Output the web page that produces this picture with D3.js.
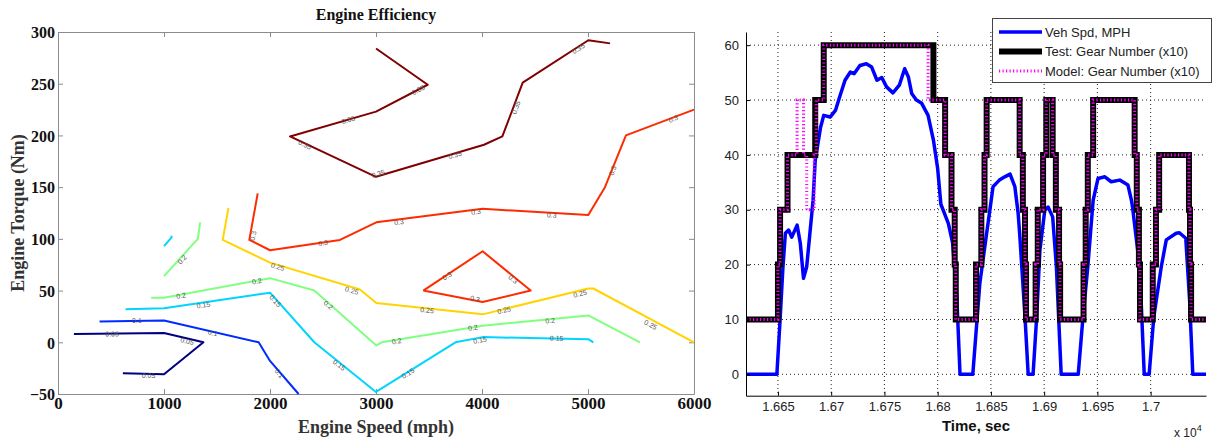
<!DOCTYPE html>
<html>
<head>
<meta charset="utf-8">
<script src="https://cdn.jsdelivr.net/npm/d3@7"></script>
<style>
  body { margin: 0; background: #fff; }
  svg { display: block; }
</style>
</head>
<body>
<div id="chart"></div>
<script>
/* Engine efficiency contours + gear shift comparison */

// ---- left panel: contour lines (engine speed, torque) ----
const levels = [0.05, 0.1, 0.15, 0.2, 0.25, 0.3, 0.35];
const levelText = ["0.05", "0.1", "0.15", "0.2", "0.25", "0.3", "0.35"];

const c05 = [[150,8],[1000,9],[1372,0],[1000,-31],[612,-30]];
const c10 = [[392,20],[1000,21],[1893,0],[2000,-18],[2270,-50]];
const c15a = [[637,32],[1000,33],[2000,48],[2418,0],[3000,-48],[3750,0],[4006,5],[5003,3],[5050,0]];
const c15b = [[1000,93],[1068,101],[1074,103]];
const c20a = [[879,43],[1000,43],[2000,62],[2418,50],[3003,-3],[3054,0],[4006,16],[5003,26],[5490,0]];
const c20b = [[1000,64],[1319,100],[1341,116]];
const c25 = [[1608,130],[1554,99],[2000,77],[2849,51],[3003,38],[4006,27],[5003,52],[5050,52],[6000,0]];
const c30a = [[1884,144],[1805,99],[2000,89],[2660,99],[3003,116],[4006,129],[5003,123],[5160,150],[5358,200],[6000,225]];
const c30b = [[3446,50],[4006,88],[4459,50],[4006,39],[3446,50]];
const c35 = [[3000,284],[3488,249],[3000,223],[2189,199],[3000,160],[4019,191],[4192,199],[4384,251],[5003,292],[5208,289]];

// label anchor points per level
const lab05 = [[510,8],[1218,1],[854,-32]];
const lab10 = [[744,21],[1460,9],[2088,-30]];
const lab15 = [[1372,36],[2050,40],[2653,-22],[3302,-30],[3981,2],[4705,4]];
const lab20 = [[1162,45],[1875,59],[2550,36],[3195,1],[3915,14],[4642,21],[1171,80]];
const lab25 = [[2072,73],[2772,50],[3481,31],[4208,31],[4925,47],[5591,17]];
const lab30 = [[1840,103],[2500,96],[3217,116],[3943,126],[4657,123],[5233,166],[5805,216],[3670,64],[4293,61],[3934,42]];
const lab35 = [[3399,244],[2739,215],[2330,191],[3022,163],[3745,181],[4321,227],[4909,284]];

const speedTicks = [0, 1000, 2000, 3000, 4000, 5000, 6000];
const torqueTicks = [-50, 0, 50, 100, 150, 200, 250, 300];

// ---- right panel: vehicle speed and gear ----
const speedTime = [16620,16649,16652,16654.7,16657,16660,16663,16668,16671,16674,16677,16680,16683,16685,16690,16693,
  16699,16704,16708,16713,16718,16721.5,16727,16733,16738,16743,16747.5,16752,16758,16764,16769,16772.5,16775.6,
  16780,16785,16791,16796,16800,16803,16806,16810,16814,16818,16821,16833,16839.6,16846,16849,16852,16855,16858,
  16863,16868,16872.5,16875.6,16877,16882,16885,16889.6,16893,16896,16900.6,16903.7,16908,16911.5,16916,16932,
  16936.5,16941,16946,16950.6,16957,16963,16971,16978.7,16982,16983,16989.7,16994,16998.6,17003,17010,17014.7,
  17024,17027,17033,17036.6,17039.6,17052];
const speedMph = [0,0,9.9,19.6,25.7,26.3,25,27.2,23.9,17.5,19.6,25.7,31.7,39,45,47.2,
  46.9,48.1,50.6,53.6,55.1,54.8,56.3,56.6,56,53.6,54.1,52.4,51.3,52.7,55.7,54.2,51.2,
  50,49.4,47.2,42.7,37.5,31,29.5,27.5,24,14,0,0,16.6,25.7,29.9,34.2,34.8,35.4,
  36,36.5,34.2,29.3,25.7,10.5,0,0,10.5,22.6,29.9,30.5,28.7,19.6,0,0,
  10.5,19.6,31.7,35.7,36,35.1,35.4,34.5,31.7,30.5,19.6,0,0,10.5,19.6,24.5,
  25.7,25.8,24.8,13.5,0,0];

const gearTime = [16620,16650,16652,16659,16685,16693,16796,16807,16813,16816,16817,16836,16841,16844,16846,
  16877,16880,16882,16883,16892,16894,16899,16902,16908,16911,16914,16915,16937,16939,16941,16946,
  16985,16987,16989,16990,17002,17005,17008,17036,17037,17038,17052];
const gearTest = [1,2,3,4,5,6,5,4,3,2,1,2,3,4,5,
  4,3,2,1,2,3,4,5,4,3,2,1,2,3,4,5,
  4,3,2,1,2,3,4,3,2,1,1];

const modelTime = [16620,16650,16652,16659,16668,16674,16677,16684,16686,16693,16791,16807,16813,16816,16817,16836,16841,16844,16846,
  16877,16880,16882,16883,16892,16894,16899,16902,16908,16911,16914,16915,16937,16939,16941,16946,
  16985,16987,16989,16990,17002,17005,17008,17036,17037,17038,17052];
const modelGear = [1,2,3,4,5,4,3,4,5,6,5,4,3,2,1,2,3,4,5,
  4,3,2,1,2,3,4,5,4,3,2,1,2,3,4,5,
  4,3,2,1,2,3,4,3,2,1,1];

const timeTicks = [16650,16700,16750,16800,16850,16900,16950,17000];
const mphTicks = [0,10,20,30,40,50,60];

// jet colours for the 7 levels
const jetColors = ["#000080", "#002bff", "#00d4ff", "#80ff80", "#ffd400", "#ff2b00", "#800000"];

const width = 1224, height = 442;

let svg = d3.select("#chart")
    .append("svg")
    .attr("width", width)
    .attr("height", height);

/* ================= left chart ================= */
const m1 = {left: 58, right: 694, top: 32, bottom: 394};

let x1 = d3.scaleLinear().domain([0, 6000]).range([m1.left, m1.right]);
let y1 = d3.scaleLinear().domain([-50, 300]).range([m1.bottom, m1.top]);

const serif = "'Liberation Serif', 'Times New Roman', serif";
const sans = "'Liberation Sans', Arial, sans-serif";

function boxAxis(g, axis) {
    g.call(axis);
    g.selectAll(".domain").attr("stroke", "#8c8c8c");
    g.selectAll(".tick line").attr("stroke", "#8c8c8c");
    g.selectAll("text")
        .attr("font-family", serif)
        .attr("font-weight", "bold")
        .attr("font-size", 17)
        .attr("fill", "#111");
}

svg.append("g")
    .attr("transform", `translate(0,${m1.bottom})`)
    .call(g => boxAxis(g, d3.axisBottom(x1).tickValues(speedTicks).tickSize(-5).tickSizeOuter(0).tickPadding(3)
        .tickFormat(d3.format("d"))));

svg.append("g")
    .attr("transform", `translate(0,${m1.top})`)
    .call(g => boxAxis(g, d3.axisTop(x1).tickValues(speedTicks).tickSize(-5).tickSizeOuter(0).tickFormat("")));

svg.append("g")
    .attr("transform", `translate(${m1.left},0)`)
    .call(g => boxAxis(g, d3.axisLeft(y1).tickValues(torqueTicks).tickSize(-5).tickSizeOuter(0).tickPadding(3)
        .tickFormat(d3.format("d"))))
    .call(g => g.selectAll("text").attr("font-size", 16).attr("dy", "0.36em"));

svg.append("g")
    .attr("transform", `translate(${m1.right},0)`)
    .call(g => boxAxis(g, d3.axisRight(y1).tickValues(torqueTicks).tickSize(-5).tickSizeOuter(0).tickFormat("")));

// contour lines
const contours = [
    {lvl: 0, lines: [c05], labels: lab05},
    {lvl: 1, lines: [c10], labels: lab10},
    {lvl: 2, lines: [c15a, c15b], labels: lab15},
    {lvl: 3, lines: [c20a, c20b], labels: lab20},
    {lvl: 4, lines: [c25], labels: lab25},
    {lvl: 5, lines: [c30a, c30b], labels: lab30},
    {lvl: 6, lines: [c35], labels: lab35}
];

const line1 = d3.line().x(d => x1(d[0])).y(d => y1(d[1]));

let cg = svg.append("g");
for (let c of contours) {
    cg.selectAll(null)
        .data(c.lines)
        .join("path")
        .attr("d", line1)
        .attr("fill", "none")
        .attr("stroke", jetColors[c.lvl])
        .attr("stroke-width", 2)
        .attr("stroke-linejoin", "round");
}

// inline labels, rotated along the nearest segment
function segAngle(lines, p) {
    let best = Infinity, ang = 0;
    const px = x1(p[0]), py = y1(p[1]);
    for (let ln of lines) {
        for (let i = 0; i < ln.length - 1; i++) {
            const ax = x1(ln[i][0]), ay = y1(ln[i][1]);
            const bx = x1(ln[i+1][0]), by = y1(ln[i+1][1]);
            const dx = bx - ax, dy = by - ay;
            let t = ((px - ax) * dx + (py - ay) * dy) / (dx * dx + dy * dy);
            t = Math.max(0, Math.min(1, t));
            const d = Math.hypot(ax + t * dx - px, ay + t * dy - py);
            if (d < best) { best = d; ang = Math.atan2(dy, dx) * 180 / Math.PI; }
        }
    }
    if (ang > 90) ang -= 180;
    if (ang < -90) ang += 180;
    return ang;
}

for (let c of contours) {
    cg.selectAll(null)
        .data(c.labels)
        .join("text")
        .attr("transform", d => `translate(${x1(d[0])},${y1(d[1])}) rotate(${segAngle(c.lines, d)})`)
        .attr("text-anchor", "middle")
        .attr("dy", "0.35em")
        .attr("font-family", sans)
        .attr("font-size", 7)
        .attr("fill", "#555")
        .text(levelText[c.lvl]);
}

svg.append("text")
    .attr("x", (m1.left + m1.right) / 2)
    .attr("y", 20)
    .attr("text-anchor", "middle")
    .attr("font-family", serif)
    .attr("font-weight", "bold")
    .attr("font-size", 16)
    .attr("fill", "#111")
    .text("Engine Efficiency");

svg.append("text")
    .attr("x", (m1.left + m1.right) / 2)
    .attr("y", 433)
    .attr("text-anchor", "middle")
    .attr("font-family", serif)
    .attr("font-weight", "bold")
    .attr("font-size", 18)
    .attr("fill", "#333")
    .text("Engine Speed (mph)");

svg.append("text")
    .attr("transform", `translate(24,${(m1.top + m1.bottom) / 2}) rotate(-90)`)
    .attr("text-anchor", "middle")
    .attr("font-family", serif)
    .attr("font-weight", "bold")
    .attr("font-size", 18)
    .attr("fill", "#333")
    .text("Engine Torque (Nm)");

/* ================= right chart ================= */
const m2 = {left: 746, right: 1206, top: 32, bottom: 395.7};

let x2 = d3.scaleLinear().domain([16620, 17052]).range([m2.left, m2.right]);
let y2 = d3.scaleLinear().domain([-3.9, 62.4]).range([m2.bottom, m2.top]);

// dotted grid
svg.append("g")
    .selectAll("line")
    .data(timeTicks)
    .join("line")
    .attr("x1", d => x2(d)).attr("x2", d => x2(d))
    .attr("y1", m2.top).attr("y2", m2.bottom)
    .attr("stroke", "#222").attr("stroke-width", 1).attr("stroke-dasharray", "1,3");

svg.append("g")
    .selectAll("line")
    .data(mphTicks)
    .join("line")
    .attr("x1", m2.left).attr("x2", m2.right)
    .attr("y1", d => y2(d)).attr("y2", d => y2(d))
    .attr("stroke", "#222").attr("stroke-width", 1).attr("stroke-dasharray", "1,3");

svg.append("defs").append("clipPath")
    .attr("id", "clip2")
    .append("rect")
    .attr("x", m2.left).attr("y", m2.top - 10)
    .attr("width", m2.right - m2.left).attr("height", m2.bottom - m2.top + 10);

let plot = svg.append("g").attr("clip-path", "url(#clip2)");

const gearLine = d3.line()
    .x(d => x2(d[0]))
    .y(d => y2(d[1] * 10))
    .curve(d3.curveStepAfter);

const speedLine = d3.line()
    .x(d => x2(d[0]))
    .y(d => y2(d[1]));

plot.append("path")
    .attr("d", speedLine(d3.zip(speedTime, speedMph)))
    .attr("fill", "none")
    .attr("stroke", "#0000ff")
    .attr("stroke-width", 3.5)
    .attr("stroke-linejoin", "round");

plot.append("path")
    .attr("d", gearLine(d3.zip(gearTime, gearTest)))
    .attr("fill", "none")
    .attr("stroke", "#000")
    .attr("stroke-width", 6);

plot.append("path")
    .attr("d", gearLine(d3.zip(modelTime, modelGear)))
    .attr("fill", "none")
    .attr("stroke", "#ff00ff")
    .attr("stroke-width", 3)
    .attr("stroke-dasharray", "1.2,2.3");

// axes
svg.append("g")
    .attr("transform", `translate(0,${m2.bottom})`)
    .call(d3.axisBottom(x2).tickValues(timeTicks).tickSize(-4).tickSizeOuter(0).tickPadding(6)
        .tickFormat(d => String(+(d / 1e4).toFixed(4))))
    .call(g => g.select(".domain").attr("stroke", "#000"))
    .call(g => g.selectAll("text").attr("font-family", sans).attr("font-size", 13).attr("fill", "#222"));

svg.append("g")
    .attr("transform", `translate(${m2.left},0)`)
    .call(d3.axisLeft(y2).tickValues(mphTicks).tickSize(-4).tickSizeOuter(0).tickPadding(7))
    .call(g => g.select(".domain").attr("stroke", "#000"))
    .call(g => g.selectAll("text").attr("font-family", sans).attr("font-size", 13).attr("fill", "#222"));

svg.append("text")
    .attr("x", (m2.left + m2.right) / 2)
    .attr("y", 431)
    .attr("text-anchor", "middle")
    .attr("font-family", sans)
    .attr("font-weight", "bold")
    .attr("font-size", 15)
    .attr("fill", "#111")
    .text("Time, sec");

let expo = svg.append("text")
    .attr("x", 1174)
    .attr("y", 437)
    .attr("font-family", sans)
    .attr("font-size", 12)
    .attr("fill", "#222");
expo.append("tspan").text("x 10");
expo.append("tspan").attr("dy", -6).attr("font-size", 9).text("4");

// legend
const legendItems = ["Veh Spd, MPH", "Test: Gear Number (x10)", "Model: Gear Number (x10)"];

let lg = svg.append("g");
lg.append("rect")
    .attr("x", 992.5).attr("y", 18.5)
    .attr("width", 219).attr("height", 64)
    .attr("fill", "#fff")
    .attr("stroke", "#444");

const legendStyles = [
    {stroke: "#0000ff", w: 3.5, dash: null},
    {stroke: "#000", w: 6, dash: null},
    {stroke: "#ff00ff", w: 3, dash: "1.2,2.3"}
];

legendItems.forEach((name, i) => {
    const yy = 32 + i * 19.5;
    lg.append("line")
        .attr("x1", 999).attr("x2", 1042)
        .attr("y1", yy).attr("y2", yy)
        .attr("stroke", legendStyles[i].stroke)
        .attr("stroke-width", legendStyles[i].w)
        .attr("stroke-dasharray", legendStyles[i].dash);
    lg.append("text")
        .attr("x", 1045).attr("y", yy)
        .attr("dy", "0.35em")
        .attr("font-family", sans)
        .attr("font-size", 13)
        .attr("fill", "#222")
        .text(name);
});
</script>
</body>
</html>
